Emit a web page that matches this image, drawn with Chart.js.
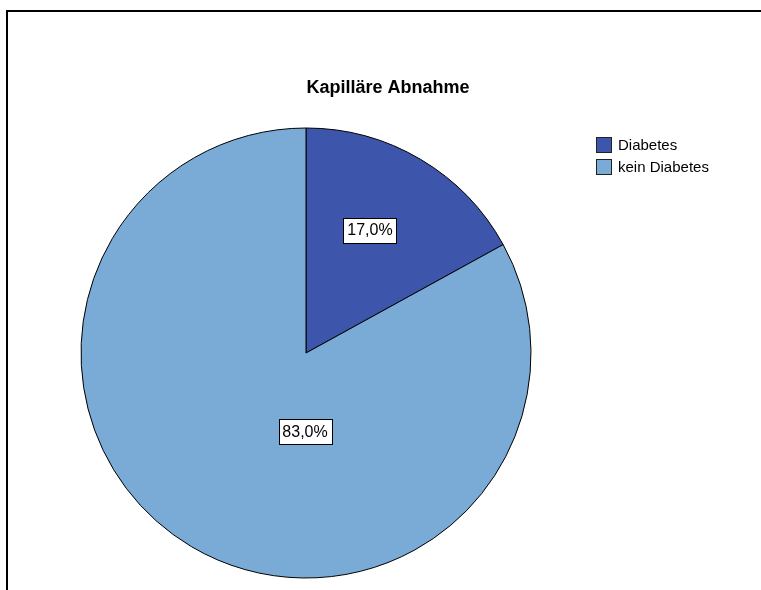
<!DOCTYPE html>
<html>
<head>
<meta charset="utf-8">
<script src="https://cdn.jsdelivr.net/npm/chart.js@4.4.1/dist/chart.umd.min.js"></script>
<style>
    html, body { margin: 0; padding: 0; background: #fff; }
    #wrap { position: relative; width: 761px; height: 590px; overflow: hidden; }
    #frame {
        position: absolute; left: 6px; top: 10px; width: 800px; height: 700px;
        border-top: 2px solid #000; border-left: 2px solid #000;
    }
    canvas { position: absolute; left: 0; top: 0; }
</style>
</head>
<body>
<div id="wrap">
    <div id="frame"></div>
    <canvas id="chart" width="761" height="590"></canvas>
</div>
<script>
const chartTitle = 'Kapilläre Abnahme';
const categories = ['Diabetes', 'kein Diabetes'];
const shares = [17.0, 83.0];
const sliceColors = ['#3d55ab', '#7aaad6'];

// where each percent box sits: angle from 12 o'clock (deg) and fraction of radius
const labelSpots = [
    {angle: 27.5, frac: 0.616},
    {angle: 180.7, frac: 0.348}
];

const FONT = 'Arial, "Liberation Sans", sans-serif';

// title, percent boxes and the legend are painted after the slices
const decorPlugin = {
    id: 'decorPlugin',
    afterDatasetsDraw(chart) {
        const {ctx} = chart;
        const arc = chart.getDatasetMeta(0).data[0];
        const cx = arc.x, cy = arc.y, r = arc.outerRadius;
        ctx.save();

        // percent labels in white boxes
        ctx.font = '16px ' + FONT;
        ctx.textAlign = 'center';
        ctx.textBaseline = 'middle';
        shares.forEach((v, i) => {
            const spot = labelSpots[i];
            const a = spot.angle * Math.PI / 180;
            const x = cx + Math.sin(a) * r * spot.frac;
            const y = cy - Math.cos(a) * r * spot.frac;
            const text = v.toFixed(1).replace('.', ',') + '%';
            const w = Math.round(ctx.measureText(text).width) + 8;
            const h = 25;
            ctx.fillStyle = '#fff';
            ctx.fillRect(Math.round(x - w / 2) + 0.5, Math.round(y - h / 2) + 0.5, w, h);
            ctx.strokeStyle = '#000';
            ctx.lineWidth = 1;
            ctx.strokeRect(Math.round(x - w / 2) + 0.5, Math.round(y - h / 2) + 0.5, w, h);
            ctx.fillStyle = '#000';
            ctx.fillText(text, x, y + 1);
        });

        // title
        ctx.font = 'bold 18px ' + FONT;
        ctx.fillText(chartTitle, 388, 88);

        // legend
        ctx.font = '15px ' + FONT;
        ctx.textAlign = 'left';
        categories.forEach((name, i) => {
            const y = 137 + i * 22;
            ctx.fillStyle = sliceColors[i];
            ctx.fillRect(596.5, y + 0.5, 15, 15);
            ctx.strokeStyle = '#222';
            ctx.strokeRect(596.5, y + 0.5, 15, 15);
            ctx.fillStyle = '#000';
            ctx.fillText(name, 618, y + 8.5);
        });
        ctx.restore();
    }
};

new Chart(document.getElementById('chart'), {
    type: 'pie',
    data: {
        labels: categories,
        datasets: [{
            data: shares,
            backgroundColor: sliceColors,
            borderColor: '#000',
            borderWidth: 1,
            borderJoinStyle: 'miter',
            radius: 225
        }]
    },
    options: {
        responsive: false,
        animation: false,
        layout: {padding: {left: 54, right: 203, top: 116, bottom: 0}},
        plugins: {
            legend: {display: false},
            title: {display: false},
            tooltip: {enabled: false}
        }
    },
    plugins: [decorPlugin]
});
</script>
</body>
</html>
